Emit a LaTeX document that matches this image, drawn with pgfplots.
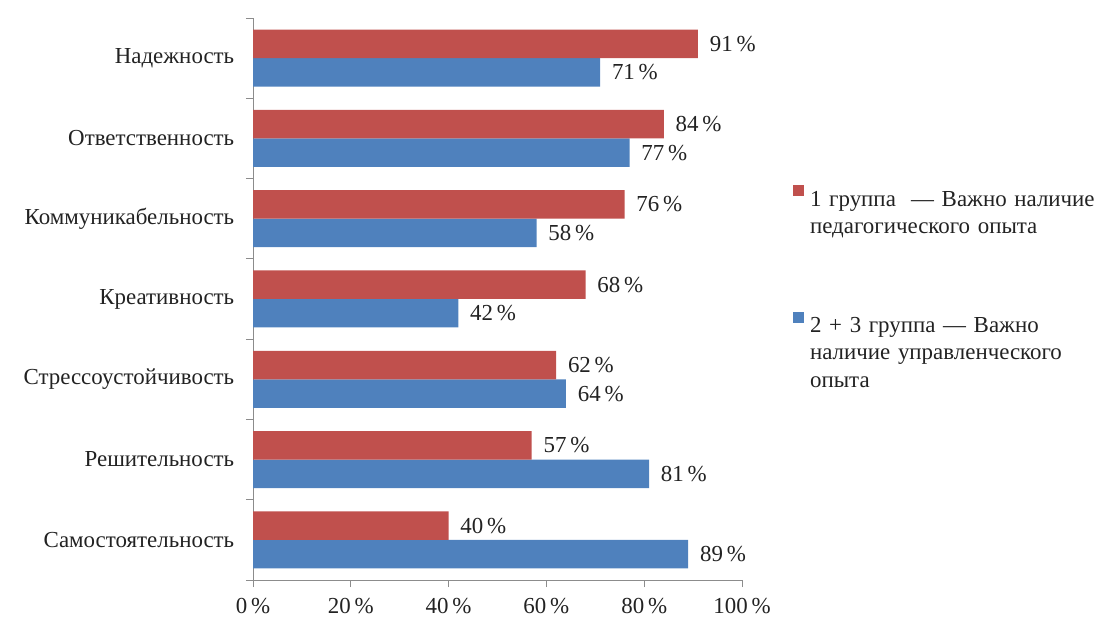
\documentclass[border=0pt]{standalone}
\usepackage{fontspec}
\setmainfont{Liberation Serif}
\usepackage{pgfplots}
\pgfplotsset{compat=1.18}
\definecolor{cred}{HTML}{C0504D}
\definecolor{cblue}{HTML}{4F81BD}
\definecolor{axgray}{HTML}{8C8C8C}
\definecolor{txt}{HTML}{222222}
\begin{document}
\fontsize{23}{27}\selectfont
\begin{tikzpicture}
\useasboundingbox (0,0) rectangle (1097bp,621bp);
\begin{axis}[
  at={(253bp,41bp)}, anchor=south west,
  scale only axis, width=489bp, height=562bp,
  font=\fontsize{23}{27}\selectfont,
  xbar=0pt, bar width=28.5bp,
  xmin=0, xmax=100, ymin=-0.5, ymax=6.5,
  xtick={0,20,...,100},
  xticklabel={\pgfmathprintnumber{\tick}\,\%},
  xticklabel style={yshift=-3bp},
  /pgf/number format/assume math mode=true,
  ytick={-0.5,0.5,...,6.5}, yticklabels={},
  extra y ticks={0,1,2,3,4,5,6},
  extra y tick labels={Самостоятельность, Решительность, Стрессоустойчивость, Креативность, Коммуникабельность, Ответственность, Надежность},
  extra y tick style={major tick length=0pt, tick style={draw=none}, yticklabel style={xshift=-11bp}},
  axis x line*=bottom, axis y line*=left,
  axis line style={axgray, line width=0.8bp, -},
  tick style={axgray, line width=0.8bp},
  tick align=outside,
  major tick length=7bp,
  ticklabel style={text=txt},
  nodes near coords={\pgfmathprintnumber{\pgfplotspointmeta}\,\%},
  point meta=x,
  nodes near coords align={horizontal},
  every node near coord/.append style={text=txt, xshift=4bp},
  reverse legend,
  legend cell align=left,
  legend image code/.code={\fill[#1] (0bp,4bp) rectangle (11bp,15bp);},
  legend style={at={(1.098,0.706)}, anchor=north west, draw=none, fill=none,
    row sep=100bp, text=txt, nodes={align=left, text width=285bp},
    /tikz/every odd column/.append style={column sep=4bp},
    font=\fontsize{23}{27.5}\selectfont},
]
\addplot[fill=cblue, draw=none] coordinates {(89,0) (81,1) (64,2) (42,3) (58,4) (77,5) (71,6)};
\addlegendentry{2 + 3 группа — Важно\\наличие управленческого\\опыта}
\addplot[fill=cred, draw=none] coordinates {(40,0) (57,1) (62,2) (68,3) (76,4) (84,5) (91,6)};
\addlegendentry{1 группа \ — Важно наличие\\педагогического опыта}
\end{axis}
\end{tikzpicture}
\end{document}
